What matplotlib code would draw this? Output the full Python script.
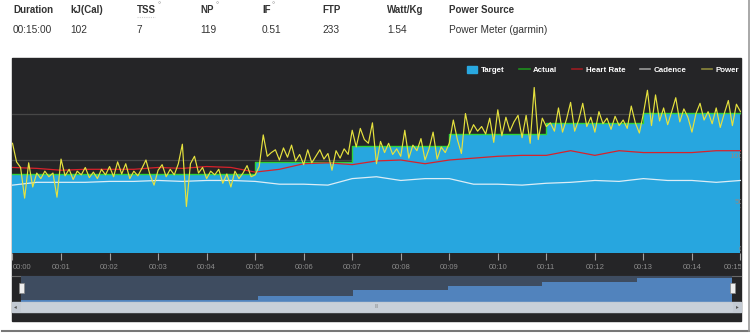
import numpy as np
import matplotlib
matplotlib.use("Agg")
import matplotlib.pyplot as plt
from matplotlib.patches import Rectangle, Patch
from matplotlib.lines import Line2D

plt.rcParams['font.family'] = ['Liberation Sans', 'DejaVu Sans']

# summary header
head_labels = ['Duration', 'kJ(Cal)', 'TSS', 'NP', 'IF', 'FTP', 'Watt/Kg', 'Power Source']
head_values = ['00:15:00', '102', '7', '119', '0.51', '233', '1.54', 'Power Meter (garmin)']

# target steps (minutes, watts)
target_edges = [0, 5, 7, 9, 11, 13, 15]
target_watts = [85, 98, 115, 128, 140, 151]

# power, one sample every 5 s
power = [118, 98, 92, 59, 97, 71, 86, 80, 88, 82, 86, 60, 101, 83, 90, 79, 88, 84, 92, 81,
         87, 80, 90, 84, 93, 82, 98, 85, 96, 80, 88, 83, 91, 100, 84, 73, 89, 95, 82, 90,
         84, 96, 117, 50, 96, 104, 86, 92, 80, 88, 84, 90, 75, 85, 71, 88, 80, 86, 94, 82,
         84, 93, 127, 104, 108, 111, 100, 113, 103, 116, 99, 106, 95, 111, 97, 104, 111, 101, 107, 89,
         110, 102, 112, 106, 132, 114, 134, 122, 118, 140, 96, 120, 108, 118, 106, 112, 104, 132, 102, 116,
         110, 123, 100, 112, 130, 101, 114, 108, 118, 143, 122, 107, 150, 128, 138, 131, 136, 128, 145, 119,
         154, 126, 146, 131, 141, 148, 124, 148, 118, 178, 122, 145, 136, 140, 131, 156, 130, 144, 162, 131,
         143, 161, 136, 146, 130, 152, 139, 145, 133, 147, 137, 143, 134, 158, 140, 129, 150, 175, 137, 170,
         142, 156, 138, 152, 167, 141, 155, 146, 130, 150, 161, 143, 152, 139, 156, 135, 150, 164, 137, 160,
         152]

# heart rate and cadence, one sample every 30 s
heart_rate = [92, 91, 89, 90, 90, 90, 92, 91, 93, 92, 87, 90, 96, 97, 95, 99, 100, 96, 100, 102,
              104, 105, 105, 110, 105, 110, 108, 108, 108, 110, 110]
cadence = [73, 76, 76, 76, 77, 77, 78, 77, 78, 78, 77, 74, 74, 73, 80, 82, 78, 80, 80, 74,
           74, 73, 75, 76, 78, 77, 80, 78, 78, 76, 78]

tick_labels = ['00:%02d' % m for m in range(16)]

W, H = 754, 335
fig = plt.figure(figsize=(W / 100, H / 100), dpi=100, facecolor='white')


def box(x0, y0, x1, y1):
    # pixel box (top-left origin) -> figure rect
    return [x0 / W, 1 - y1 / H, (x1 - x0) / W, (y1 - y0) / H]


dark = '#252527'
fig.patches.append(Rectangle(box(12, 58, 741, 321)[:2], 729 / W, 263 / H,
                             transform=fig.transFigure, color=dark, zorder=-5))

# header
xs = [13, 70, 137, 200, 262, 322, 387, 449]
for x, lab, val in zip(xs, head_labels, head_values):
    fig.text(x / W, 1 - 10 / H, lab, fontsize=7, fontweight='bold', color='#333333', va='center')
    fig.text(x / W, 1 - 30 / H, val, fontsize=7.3, color='#333333', va='center')
for x in [157, 215, 271]:
    fig.text(x / W, 1 - 6 / H, '°', fontsize=5.5, color='#888888', va='center')
fig.add_artist(Line2D([137 / W, 155 / W], [1 - 17 / H, 1 - 17 / H], color='#cfcfcf',
                      lw=0.8, ls=(0, (1, 1))))

# main chart
ax = fig.add_axes(box(12, 58, 741, 253))
ax.set_facecolor(dark)
ax.set_xlim(-0.0103, 15.011)
ax.set_ylim(0, 209.7)
tsteps = np.array(target_edges, dtype=float)
tvals = np.array(target_watts + [target_watts[-1]])
ax.fill_between(tsteps, 0, tvals, step='post', color='#27a6df', lw=0, zorder=2)
ax.step(tsteps, tvals, where='post', color='#2fd23a', lw=1, zorder=3)

t_hr = np.arange(len(heart_rate)) * 0.5
ax.plot(t_hr, cadence, color='#dcedf6', lw=0.9, zorder=4)
ax.plot(t_hr, heart_rate, color='#d8222b', lw=0.9, zorder=4)
t_pw = np.arange(len(power)) * 5 / 60
ax.plot(t_pw, power, color='#e6e23e', lw=0.85, zorder=5)

ax.set_yticks([50, 100, 150])
ax.grid(axis='y', color='#474747', lw=0.9, zorder=1)
ax.set_axisbelow(True)
ax.set_xticks([])
ax.tick_params(left=False, labelleft=False)
for s in ax.spines.values():
    s.set_visible(False)
for v in [0, 50, 100]:
    ax.text(15.07, v + 4, str(v), fontsize=6, color='#8a8a8a', ha='right', va='center',
            clip_on=True, zorder=6)

handles = [Patch(color='#29a8e0'),
           Line2D([], [], color='#1d8f1d', lw=1.2),
           Line2D([], [], color='#9b1c22', lw=1.2),
           Line2D([], [], color='#9a9a9a', lw=1.2),
           Line2D([], [], color='#8c883c', lw=1.2)]
leg = ax.legend(handles, ['Target', 'Actual', 'Heart Rate', 'Cadence', 'Power'],
                ncol=5, loc='center right', bbox_to_anchor=(739 / W, 1 - 70 / H),
                bbox_transform=fig.transFigure, frameon=False, fontsize=5.7,
                handlelength=1.3, handleheight=0.9, handletextpad=0.45, columnspacing=1.85,
                borderaxespad=0, borderpad=0)
for txt in leg.get_texts():
    txt.set_color('white')
    txt.set_fontweight('bold')

# time band
axt = fig.add_axes(box(12, 253, 741, 276))
axt.set_facecolor(dark)
axt.set_xlim(-0.0103, 15.011)
axt.set_ylim(0, 1)
axt.set_xticks(range(16))
axt.tick_params(axis='x', direction='in', top=True, bottom=False, labelbottom=False,
                length=5, width=0.8, color='#a0a0a0')
axt.set_yticks([])
for s in ['left', 'right', 'top']:
    axt.spines[s].set_visible(False)
axt.spines['bottom'].set_color('#6a6a6a')
for m, lab in enumerate(tick_labels):
    ha = 'left' if m == 0 else ('right' if m == 15 else 'center')
    xm = 15.04 if m == 15 else m
    axt.text(xm, 0.38, lab, fontsize=5.5, color='#8c8c8c', ha=ha, va='center', clip_on=True)

# navigator
axn = fig.add_axes(box(21, 276, 732, 302))
axn.set_facecolor('#3e4c60')
axn.set_xlim(0, 15)
axn.set_ylim(79, 157)
axn.fill_between(tsteps, 79, tvals, step='post', color='#5183bd', lw=0)
axn.set_xticks([])
axn.set_yticks([])
for s in axn.spines.values():
    s.set_visible(False)
for hx in [21, 732]:
    fig.patches.append(Rectangle(box(hx - 2.5, 283, hx + 2.5, 293)[:2], 5 / W, 10 / H,
                                 transform=fig.transFigure, facecolor='#eeeeee',
                                 edgecolor='#888888', lw=0.5, zorder=5))

# scrollbar
fig.patches.append(Rectangle(box(12, 302, 741, 312)[:2], 729 / W, 10 / H,
                             transform=fig.transFigure, color='#c3cad3', zorder=1))
fig.patches.append(Rectangle(box(21, 303, 732, 311)[:2], 711 / W, 8 / H,
                             transform=fig.transFigure, color='#c9d0d9', zorder=2))
fig.text(15 / W, 1 - 307 / H, '◂', fontsize=4, color='#555555', ha='center', va='center')
fig.text(737 / W, 1 - 307 / H, '▸', fontsize=4, color='#555555', ha='center', va='center')
fig.text(377 / W, 1 - 307 / H, 'III', fontsize=3.5, color='#888888', ha='center', va='center')

# page shadow
fig.add_artist(Line2D([2 / W, 749 / W], [1 - 331 / H, 1 - 331 / H], color='#777777', lw=1.5))
fig.add_artist(Line2D([749 / W, 749 / W], [1 - 331 / H, 1.0], color='#999999', lw=1.2))

fig.savefig('out.png', dpi=100, facecolor='white')
